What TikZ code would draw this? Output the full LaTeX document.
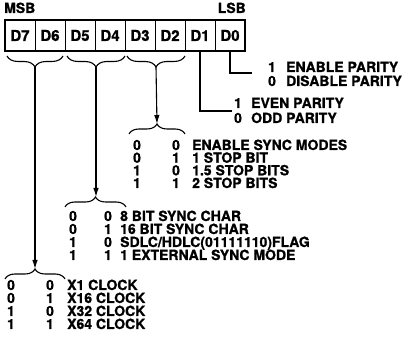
\documentclass[tikz,border=0pt]{standalone}
\usepackage{fontspec}
\setmainfont[BoldFeatures={FakeBold=1}]{TeX Gyre Heros}
\usepackage{tikz}
\usetikzlibrary{decorations.pathreplacing,arrows.meta}

\tikzset{
  cell/.style={minimum width=30pt, minimum height=31pt, inner sep=0pt,
    font=\fontsize{15}{15}\selectfont\bfseries},
  boxline/.style={line width=1.5pt},
  sepline/.style={line width=1.3pt},
  pairline/.style={line width=0.6pt},
  wire/.style={line width=1.1pt},
  downbrace/.style={decorate, decoration={brace, mirror, amplitude=11pt}, line width=1.1pt},
  upbrace/.style={decorate, decoration={brace, amplitude=10pt}, line width=1.1pt},
  tip/.style={-{Latex[length=9pt,width=5.5pt]}},
  txt/.style={anchor=base west, inner sep=0pt},
  bit/.style={anchor=base, inner sep=0pt}
}

\begin{document}
\begin{tikzpicture}[x=1pt, y=-1pt, font=\fontsize{14}{14}\selectfont\bfseries]
  \useasboundingbox (0,0) rectangle (405,347);

  % Register
  \node[txt] (msb) at (4,13) {MSB};
  \node[anchor=base east, inner sep=0pt] (lsb) at (246,13) {LSB};
  \node[cell] (d7) at (20,35.5) {D7};
  \node[cell] (d6) at (50,35.5) {D6};
  \node[cell] (d5) at (80,35.5) {D5};
  \node[cell] (d4) at (110,35.5) {D4};
  \node[cell] (d3) at (140,35.5) {D3};
  \node[cell] (d2) at (170,35.5) {D2};
  \node[cell] (d1) at (200,35.5) {D1};
  \node[cell] (d0) at (230,35.5) {D0};
  \draw[boxline] (d7.north west) rectangle (d0.south east);
  \draw[pairline] (d7.north east) -- (d7.south east);
  \draw[sepline] (d6.north east) -- (d6.south east);
  \draw[pairline] (d5.north east) -- (d5.south east);
  \draw[sepline] (d4.north east) -- (d4.south east);
  \draw[pairline] (d3.north east) -- (d3.south east);
  \draw[sepline] (d2.north east) -- (d2.south east);
  \draw[sepline] (d1.north east) -- (d1.south east);

  % Braces under the bit pairs
  \coordinate (tb1l) at (7,56);   \coordinate (tb1r) at (63,56);
  \coordinate (tb2l) at (67,56);  \coordinate (tb2r) at (125,56);
  \coordinate (tb3l) at (127,56); \coordinate (tb3r) at (185,56);
  \draw[downbrace] (tb1l) -- (tb1r);
  \draw[downbrace] (tb2l) -- (tb2r);
  \draw[downbrace] (tb3l) -- (tb3r);
  \coordinate (top1) at (35,67);
  \coordinate (top2) at (96,67);
  \coordinate (top3) at (156,67);

  % Parity bits D0, D1
  \coordinate (enb) at (252,73);
  \coordinate (evn) at (232,111);
  \draw[wire] (d0.south) |- (enb);
  \draw[wire] (d1.south) |- (evn);
  \node[bit] (enb1) at (272,72) {1};
  \node[txt] (enbt) at (286,72) {ENABLE PARITY};
  \node[bit] (enb0) at (272,86) {0};
  \node[txt] (disbt) at (286,86) {DISABLE PARITY};
  \node[bit] (evn1) at (238,108) {1};
  \node[txt] (evnt) at (251,108) {EVEN PARITY};
  \node[bit] (evn0) at (238,123) {0};
  \node[txt] (oddt) at (251,123) {ODD PARITY};

  % D3 D2: stop bits
  \coordinate (sb3l) at (129,134); \coordinate (sb3r) at (185,134);
  \draw[upbrace] (sb3l) -- (sb3r);
  \coordinate (low3) at (157,124);
  \draw[wire, tip] (top3) -- (low3);
  \node[bit] (s0a) at (137,150) {0}; \node[bit] (s0b) at (176,150) {0};
  \node[txt] (s0) at (192,150) {ENABLE SYNC MODES};
  \node[bit] (s1a) at (137,162.7) {0}; \node[bit] (s1b) at (176,162.7) {1};
  \node[txt] (s1) at (192,162.7) {1 STOP BIT};
  \node[bit] (s2a) at (137,175.3) {1}; \node[bit] (s2b) at (176,175.3) {0};
  \node[txt] (s2) at (192,175.3) {1.5 STOP BITS};
  \node[bit] (s3a) at (137,188) {1}; \node[bit] (s3b) at (176,188) {1};
  \node[txt] (s3) at (192,188) {2 STOP BITS};

  % D5 D4: sync char
  \coordinate (sb2l) at (65,207); \coordinate (sb2r) at (126,207);
  \draw[upbrace] (sb2l) -- (sb2r);
  \coordinate (low2) at (96,197);
  \draw[wire, tip] (top2) -- (low2);
  \node[bit] (c0a) at (73,221) {0}; \node[bit] (c0b) at (108,221) {0};
  \node[txt] (c0) at (120,221) {8 BIT SYNC CHAR};
  \node[bit] (c1a) at (73,234) {0}; \node[bit] (c1b) at (108,234) {1};
  \node[txt] (c1) at (120,234) {16 BIT SYNC CHAR};
  \node[bit] (c2a) at (73,247) {1}; \node[bit] (c2b) at (108,247) {0};
  \node[txt] (c2) at (120,247) {SDLC/HDLC(01111110)FLAG};
  \node[bit] (c3a) at (73,260) {1}; \node[bit] (c3b) at (108,260) {1};
  \node[txt] (c3) at (120,260) {1 EXTERNAL SYNC MODE};

  % D7 D6: clock
  \coordinate (sb1l) at (5,279); \coordinate (sb1r) at (65,279);
  \draw[upbrace] (sb1l) -- (sb1r);
  \coordinate (low1) at (35,269);
  \draw[wire, tip] (top1) -- (low1);
  \node[bit] (k0a) at (11,290) {0}; \node[bit] (k0b) at (50,290) {0};
  \node[txt] (k0) at (67,290) {X1 CLOCK};
  \node[bit] (k1a) at (11,303) {0}; \node[bit] (k1b) at (50,303) {1};
  \node[txt] (k1) at (67,303) {X16 CLOCK};
  \node[bit] (k2a) at (11,316) {1}; \node[bit] (k2b) at (50,316) {0};
  \node[txt] (k2) at (67,316) {X32 CLOCK};
  \node[bit] (k3a) at (11,329) {1}; \node[bit] (k3b) at (50,329) {1};
  \node[txt] (k3) at (67,329) {X64 CLOCK};
\end{tikzpicture}
\end{document}
